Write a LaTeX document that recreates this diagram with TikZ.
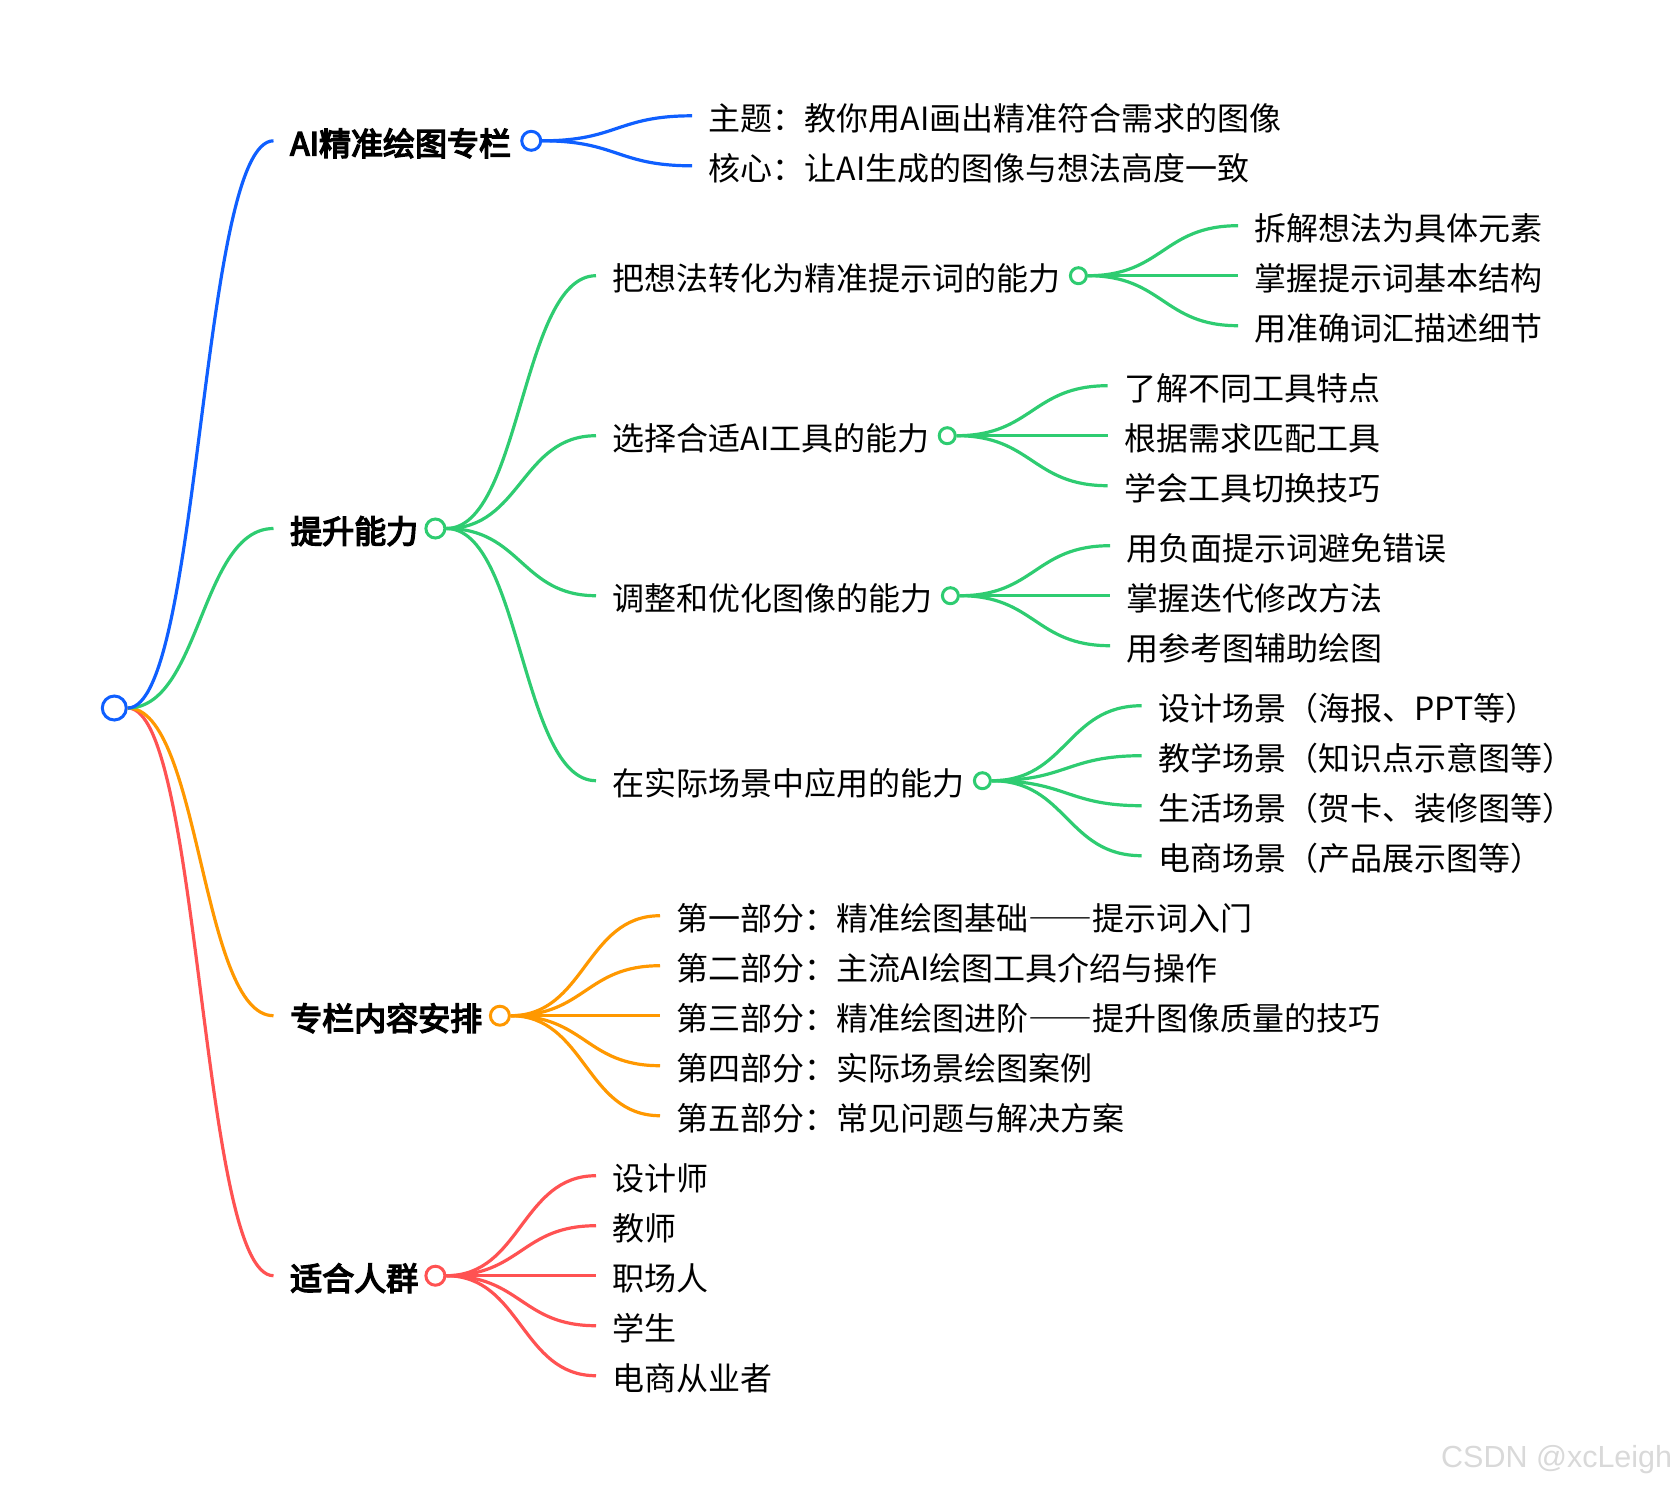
\documentclass[tikz,border=0pt]{standalone}
\usepackage{fontspec}
\setmainfont{Noto Sans CJK SC}
\newfontfamily\markfont{Liberation Sans}
\newfontfamily\widefont[RawFeature=+fwid]{Noto Sans CJK SC}
\newfontfamily\headfont[FakeBold=4.5]{Noto Sans CJK SC}
\usetikzlibrary{positioning,calc}
\definecolor{mapblue}{HTML}{0F5FFF}
\definecolor{mapgreen}{HTML}{2ECC71}
\definecolor{maporange}{HTML}{FF9800}
\definecolor{mapred}{HTML}{FF5252}

\begin{document}
\begin{tikzpicture}[x=1pt,y=-1pt]
        \tikzstyle{item}=[anchor=west,inner xsep=16.5pt,inner ysep=0pt,text height=29.4pt,text depth=0pt,font=\fontsize{32}{38}\selectfont]
        \tikzstyle{head}=[item,font=\fontsize{32}{38}\selectfont\headfont]
        \tikzstyle{dot}=[circle,draw,fill=white,line width=3pt,inner sep=0pt,minimum size=16pt]
        \tikzstyle{headdot}=[dot,minimum size=19pt]
        \tikzstyle{link}=[line width=3.2pt,to path={let \p1=(\tikztostart),\p2=(\tikztotarget) in .. controls ({\x1/2+\x2/2},\y1) and ({\x1/2+\x2/2},\y2) .. (\tikztotarget)}]
        \useasboundingbox (0,0) rectangle (1672,1486);
        \node[mapblue,dot,minimum size=24pt] (root) at (114.3,708) {};

        \node[head] (column) at (273.5,140.8) {AI精准绘图专栏};
        \node[mapblue,headdot,right=-7.5pt of column] (columndot) {};
        \node[item] (theme) at (692,115.8) {主题：教你用AI画出精准符合需求的图像};
        \node[item] (core) at (692,165.8) {核心：让AI生成的图像与想法高度一致};

        \node[head] (skill) at (273.5,528.5) {提升能力};
        \node[mapgreen,headdot,right=-10.5pt of skill] (skilldot) {};
        \node[item] (prompt) at (596,275.7) {把想法转化为精准提示词的能力};
        \node[mapgreen,dot,right=-8.5pt of prompt] (promptdot) {};
        \node[item] (promptA) at (1238,225.7) {拆解想法为具体元素};
        \node[item] (promptB) at (1238,275.7) {掌握提示词基本结构};
        \node[item] (promptC) at (1238,325.7) {用准确词汇描述细节};
        \node[item] (tool) at (596,435.7) {选择合适AI工具的能力};
        \node[mapgreen,dot,right=-8.5pt of tool] (tooldot) {};
        \node[item] (toolA) at (1107.7,385.7) {了解不同工具特点};
        \node[item] (toolB) at (1107.7,435.7) {根据需求匹配工具};
        \node[item] (toolC) at (1107.7,485.7) {学会工具切换技巧};
        \node[item] (tune) at (596,595.7) {调整和优化图像的能力};
        \node[mapgreen,dot,right=-8.5pt of tune] (tunedot) {};
        \node[item] (tuneA) at (1110,545.7) {用负面提示词避免错误};
        \node[item] (tuneB) at (1110,595.7) {掌握迭代修改方法};
        \node[item] (tuneC) at (1110,645.7) {用参考图辅助绘图};
        \node[item] (scene) at (596,780.7) {在实际场景中应用的能力};
        \node[mapgreen,dot,right=-8.5pt of scene] (scenedot) {};
        \node[item] (sceneA) at (1141.7,705.7) {设计场景（海报、PPT等）};
        \node[item] (sceneB) at (1141.7,755.7) {教学场景（知识点示意图等）};
        \node[item] (sceneC) at (1141.7,805.7) {生活场景（贺卡、装修图等）};
        \node[item] (sceneD) at (1141.7,855.7) {电商场景（产品展示图等）};

        \node[head] (plan) at (273.5,1015.7) {专栏内容安排};
        \node[maporange,headdot,right=-10pt of plan] (plandot) {};
        \node[item] (partA) at (660,915.7) {第一部分：精准绘图基础{\widefont ——}提示词入门};
        \node[item] (partB) at (660,965.7) {第二部分：主流AI绘图工具介绍与操作};
        \node[item] (partC) at (660,1015.7) {第三部分：精准绘图进阶{\widefont ——}提升图像质量的技巧};
        \node[item] (partD) at (660,1065.7) {第四部分：实际场景绘图案例};
        \node[item] (partE) at (660,1115.7) {第五部分：常见问题与解决方案};

        \node[head] (crowd) at (273.5,1275.7) {适合人群};
        \node[mapred,headdot,right=-10.5pt of crowd] (crowddot) {};
        \node[item] (crowdA) at (596,1175.7) {设计师};
        \node[item] (crowdB) at (596,1225.7) {教师};
        \node[item] (crowdC) at (596,1275.7) {职场人};
        \node[item] (crowdD) at (596,1325.7) {学生};
        \node[item] (crowdE) at (596,1375.7) {电商从业者};

        \node[anchor=base west,inner sep=0pt,text=black!15,font=\markfont\fontsize{30.5}{36}\selectfont] (mark) at (1441,1467) {CSDN @xcLeigh};

        \foreach \from/\dest in {root/crowd,crowddot/crowdA,crowddot/crowdB,crowddot/crowdC,crowddot/crowdD,crowddot/crowdE}
            \draw[link,mapred] (\from.east) to (\dest.west);
        \foreach \from/\dest in {root/plan,plandot/partA,plandot/partB,plandot/partC,plandot/partD,plandot/partE}
            \draw[link,maporange] (\from.east) to (\dest.west);
        \foreach \from/\dest in {root/skill,skilldot/prompt,skilldot/tool,skilldot/tune,skilldot/scene,promptdot/promptA,promptdot/promptB,promptdot/promptC,tooldot/toolA,tooldot/toolB,tooldot/toolC,tunedot/tuneA,tunedot/tuneB,tunedot/tuneC,scenedot/sceneA,scenedot/sceneB,scenedot/sceneC,scenedot/sceneD}
            \draw[link,mapgreen] (\from.east) to (\dest.west);
        \foreach \from/\dest in {root/column,columndot/theme,columndot/core}
            \draw[link,mapblue] (\from.east) to (\dest.west);
\end{tikzpicture}
\end{document}
